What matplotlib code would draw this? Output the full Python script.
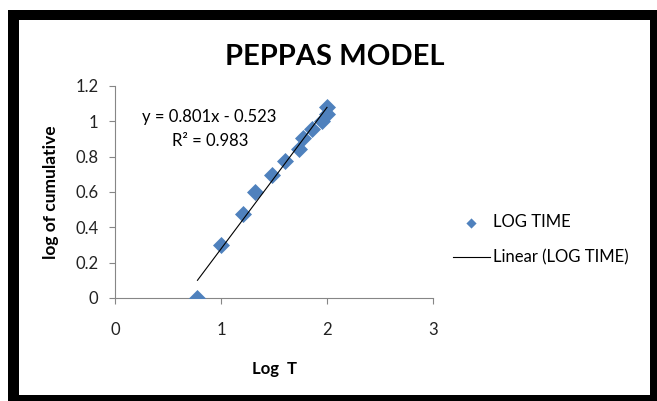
import matplotlib.pyplot as plt
from matplotlib.patches import Rectangle

# data
log_t = [0.778, 1.0, 1.204, 1.322, 1.477, 1.602, 1.732, 1.778, 1.857, 1.954, 2.0, 2.0]
log_cum = [0.0, 0.301, 0.477, 0.602, 0.699, 0.778, 0.845, 0.903, 0.954, 1.0, 1.041, 1.079]
slope, intercept, r2 = 0.801, -0.523, 0.983
x_ticks = [0, 1, 2, 3]
y_ticks = [0, 0.2, 0.4, 0.6, 0.8, 1.0, 1.2]

W, H = 657, 401
plt.rcParams['font.family'] = ['Lato', 'DejaVu Sans']

fig = plt.figure(figsize=(W / 100, H / 100), dpi=100)

# black frame around the chart
fig.patches.append(Rectangle((8 / W, 0), 1 - 8 / W, 1 - 10 / H, transform=fig.transFigure,
                             facecolor='black', edgecolor='none', zorder=-2))
fig.patches.append(Rectangle((19 / W, 6 / H), (650 - 19) / W, (395 - 20) / H,
                             transform=fig.transFigure, facecolor='white',
                             edgecolor='none', zorder=-1))

ax = fig.add_axes([115 / W, 1 - 298 / H, (433 - 115) / W, (298 - 86) / H])
ax.set_zorder(2)
ax.patch.set_alpha(0)

ax.scatter(log_t, log_cum, marker='D', s=75, color='#4F81BD', zorder=3,
           label='LOG TIME', linewidths=0)
x0, x1 = min(log_t), max(log_t)
ax.plot([x0, x1], [slope * x0 + intercept, slope * x1 + intercept], color='black',
        lw=0.8, zorder=4, label='Linear (LOG TIME)')

ax.set_xlim(0, 3)
ax.set_ylim(0, 1.2)
ax.set_xticks(x_ticks)
ax.set_yticks(y_ticks)
ax.set_xticklabels([str(v) for v in x_ticks])
ax.set_yticklabels(['0', '0.2', '0.4', '0.6', '0.8', '1', '1.2'])

for s in ['top', 'right']:
    ax.spines[s].set_visible(False)
for s in ['left', 'bottom']:
    ax.spines[s].set_color('#868686')
    ax.spines[s].set_linewidth(0.8)
ax.tick_params(axis='both', direction='out', length=4, color='#868686',
               labelsize=12, labelcolor='#222222')
ax.tick_params(axis='x', pad=13)
ax.tick_params(axis='y', pad=8)

ax.set_xlabel('Log  T', fontsize=12, fontweight='bold', labelpad=17)
ax.set_ylabel('log of cumulative', fontsize=12.5, fontweight='bold', labelpad=12)

fig.text(335 / W, 1 - 57 / H, 'PEPPAS MODEL', fontsize=21, fontweight='bold',
         ha='center', va='center')

ax.text(0.255, 1.024, f'y = {slope}x - {abs(intercept)}', fontsize=12, ha='left', va='center')
ax.text(0.54, 0.889, f'R² = {r2}', fontsize=12, ha='left', va='center')

ax.legend(loc='center left', bbox_to_anchor=(438 / W, 1 - 240 / H),
          bbox_transform=fig.transFigure, frameon=False, fontsize=12,
          handlelength=2.2, handletextpad=0.2, labelspacing=1.15, markerscale=0.6)

fig.savefig('out.png', dpi=100)
